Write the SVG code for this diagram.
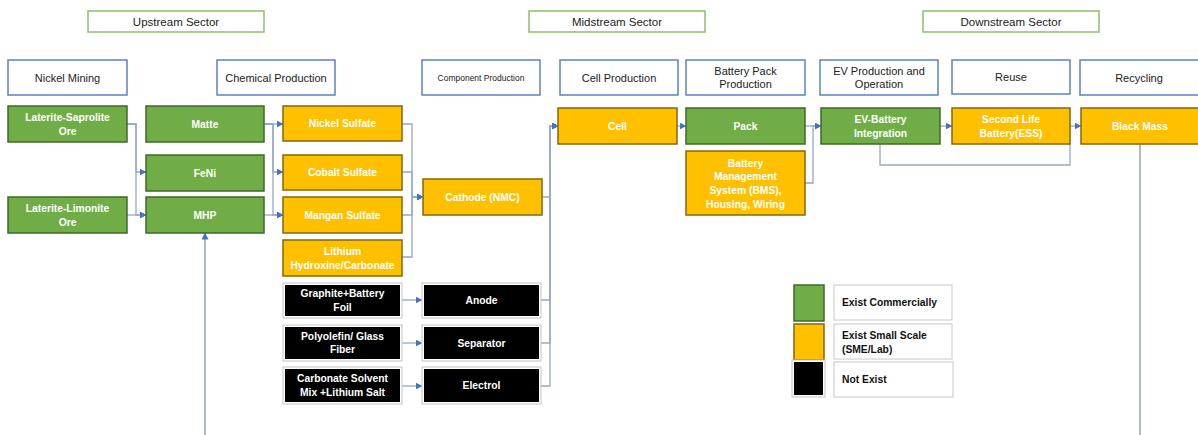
<svg xmlns="http://www.w3.org/2000/svg" width="1198" height="435" viewBox="0 0 1198 435">
<defs>
<marker id="arr" markerWidth="7" markerHeight="7" refX="6.5" refY="3.5" orient="auto" markerUnits="userSpaceOnUse"><path d="M0,0 L7,3.5 L0,7 z" fill="#4472c4"/></marker>
<style>
text{font-family:"Liberation Sans",Arial,sans-serif;}
.sec rect{fill:#fff;stroke:#8cc06a;stroke-width:1.5}
.sec text{font-size:11.5px;fill:#222;text-anchor:middle}
.cat rect{fill:#fff;stroke:#5b82c8;stroke-width:1.5}
.cat text{font-size:11px;fill:#222;text-anchor:middle}
.g rect{fill:#70ad47;stroke:#3f6a28;stroke-width:1.5}
.y rect{fill:#ffc000;stroke:#866708;stroke-width:1.5}
.b .o{fill:#fff;stroke:#c4c4c4;stroke-width:1}
.b .i{fill:#000}
.n text{font-size:10.3px;font-weight:bold;fill:#fff;text-anchor:middle}
.lg rect.l{fill:#fff;stroke:#c8c8c8;stroke-width:1}
.lg text{font-size:10.3px;font-weight:bold;fill:#111}
.c path{fill:none;stroke:#97a8c2;stroke-width:1.3}
.c .a{marker-end:url(#arr)}
</style>
</defs>
<rect width="1198" height="435" fill="#fff"/>

<g id="sectors">
<g id="upstream" class="sec"><rect x="88" y="11" width="176" height="21"/><text x="176" y="25.5">Upstream Sector</text></g>
<g id="midstream" class="sec"><rect x="529" y="11" width="176" height="21"/><text x="617" y="25.5">Midstream Sector</text></g>
<g id="downstream" class="sec"><rect x="923" y="11" width="176" height="21"/><text x="1011" y="25.5">Downstream Sector</text></g>
</g>

<g id="categories">
<g id="cat-mining" class="cat"><rect x="8" y="60" width="119" height="35"/><text x="67.5" y="81.5">Nickel Mining</text></g>
<g id="cat-chem" class="cat"><rect x="217" y="60" width="118" height="35"/><text x="276" y="81.5">Chemical Production</text></g>
<g id="cat-comp" class="cat"><rect x="422" y="60" width="118" height="35"/><text x="481" y="80.5" style="font-size:8.5px">Component Production</text></g>
<g id="cat-cell" class="cat"><rect x="560" y="60" width="118" height="35"/><text x="619" y="81.5">Cell Production</text></g>
<g id="cat-pack" class="cat"><rect x="686" y="60" width="119" height="35"/><text x="745.5" y="74.5">Battery Pack</text><text x="745.5" y="88">Production</text></g>
<g id="cat-ev" class="cat"><rect x="820" y="60" width="118" height="35"/><text x="879" y="74.5">EV Production and</text><text x="879" y="88">Operation</text></g>
<g id="cat-reuse" class="cat"><rect x="952" y="60" width="118" height="34"/><text x="1011" y="81">Reuse</text></g>
<g id="cat-recycling" class="cat"><rect x="1080" y="60" width="125" height="35"/><text x="1139" y="81.5">Recycling</text></g>
</g>

<g id="connectors" class="c">
<path class="a" d="M127,124 H136 V172 H146"/>
<path class="a" d="M127,124 H136 V215 H146"/>
<path class="a" d="M127,215 H146"/>
<path class="a" d="M264,124 H283"/>
<path class="a" d="M264,124 H273 V172 H283"/>
<path class="a" d="M264,124 H273 V215 H283"/>
<path class="a" d="M264,215 H283"/>
<path class="a" d="M402,124 H412 V197 H423"/>
<path class="a" d="M402,172 H412 V197 H423"/>
<path class="a" d="M402,215 H412 V197 H423"/>
<path class="a" d="M402,257 H412 V197 H423"/>
<path class="a" d="M542,197 H550 V126 H558"/>
<path class="a" d="M541,300 H550 V126 H558"/>
<path class="a" d="M541,343 H550 V126 H558"/>
<path class="a" d="M541,386 H550 V126 H558"/>
<path class="a" d="M402,300 H422"/>
<path class="a" d="M402,343 H422"/>
<path class="a" d="M402,386 H422"/>
<path class="a" d="M677,126 H686"/>
<path class="a" d="M805,126 H821"/>
<path class="a" d="M805,183 H813 V126 H821"/>
<path class="a" d="M940,126 H952"/>
<path class="a" d="M1070,126 H1081"/>
<path d="M880,144 V165 H1070 V144"/>
<path d="M1140,144 V435" style="stroke:#8597b3"/>
<path class="a" d="M205,435 V233" style="stroke:#8597b3"/>
</g>

<g id="n-saprolite" class="n g"><rect x="8" y="106" width="119" height="36"/><text x="67.5" y="121">Laterite-Saprolite</text><text x="67.5" y="134.5">Ore</text></g>
<g id="n-limonite" class="n g"><rect x="8" y="197" width="119" height="36"/><text x="67.5" y="212">Laterite-Limonite</text><text x="67.5" y="225.5">Ore</text></g>
<g id="n-matte" class="n g"><rect x="146" y="106" width="118" height="36"/><text x="205" y="127.5">Matte</text></g>
<g id="n-feni" class="n g"><rect x="146" y="155" width="118" height="36"/><text x="205" y="176.5">FeNi</text></g>
<g id="n-mhp" class="n g"><rect x="146" y="197" width="118" height="36"/><text x="205" y="218.5">MHP</text></g>
<g id="n-nisulfate" class="n y"><rect x="283" y="106" width="119" height="35"/><text x="342.5" y="127">Nickel Sulfate</text></g>
<g id="n-cosulfate" class="n y"><rect x="283" y="155" width="119" height="35"/><text x="342.5" y="176">Cobalt Sulfate</text></g>
<g id="n-mnsulfate" class="n y"><rect x="283" y="197" width="119" height="36"/><text x="342.5" y="218.5">Mangan Sulfate</text></g>
<g id="n-lithium" class="n y"><rect x="283" y="240" width="119" height="36"/><text x="342.5" y="255">Lithium</text><text x="342.5" y="268.5">Hydroxine/Carbonate</text></g>
<g id="n-cathode" class="n y"><rect x="423" y="179" width="119" height="36"/><text x="482.5" y="200.5">Cathode (NMC)</text></g>

<g id="n-graphite" class="n b"><rect class="o" x="283" y="283" width="119" height="35"/><rect class="i" x="285" y="285" width="115" height="31"/><text x="342.5" y="297">Graphite+Battery</text><text x="342.5" y="310.5">Foil</text></g>
<g id="n-polyolefin" class="n b"><rect class="o" x="283" y="325" width="119" height="36"/><rect class="i" x="285" y="327" width="115" height="32"/><text x="342.5" y="339.5">Polyolefin/ Glass</text><text x="342.5" y="353">Fiber</text></g>
<g id="n-carbonate" class="n b"><rect class="o" x="283" y="367" width="119" height="37"/><rect class="i" x="285" y="369" width="115" height="33"/><text x="342.5" y="382">Carbonate Solvent</text><text x="342.5" y="395.5">Mix +Lithium Salt</text></g>
<g id="n-anode" class="n b"><rect class="o" x="422" y="283" width="119" height="35"/><rect class="i" x="424" y="285" width="115" height="31"/><text x="481.5" y="304">Anode</text></g>
<g id="n-separator" class="n b"><rect class="o" x="422" y="325" width="119" height="36"/><rect class="i" x="424" y="327" width="115" height="32"/><text x="481.5" y="346.5">Separator</text></g>
<g id="n-electrol" class="n b"><rect class="o" x="422" y="367" width="119" height="37"/><rect class="i" x="424" y="369" width="115" height="33"/><text x="481.5" y="389">Electrol</text></g>

<g id="n-cell" class="n y"><rect x="558" y="108" width="119" height="36"/><text x="617.5" y="129.5">Cell</text></g>
<g id="n-pack" class="n g"><rect x="686" y="108" width="119" height="36"/><text x="745.5" y="129.5">Pack</text></g>
<g id="n-bms" class="n y"><rect x="686" y="151" width="119" height="64"/><text x="745.5" y="166.5">Battery</text><text x="745.5" y="180">Management</text><text x="745.5" y="194">System (BMS),</text><text x="745.5" y="207.5">Housing, Wiring</text></g>
<g id="n-evbattery" class="n g"><rect x="821" y="108" width="119" height="36"/><text x="880.5" y="123">EV-Battery</text><text x="880.5" y="136.5">Integration</text></g>
<g id="n-secondlife" class="n y"><rect x="952" y="108" width="118" height="36"/><text x="1011" y="123">Second Life</text><text x="1011" y="136.5">Battery(ESS)</text></g>
<g id="n-blackmass" class="n y"><rect x="1081" y="108" width="125" height="36"/><text x="1140" y="129.5">Black Mass</text></g>

<g id="legend" class="lg">
<g id="lg-commercial"><rect x="794" y="285" width="30" height="36" fill="#70ad47" stroke="#3f6a28" stroke-width="1.5"/><rect class="l" x="834" y="285" width="118" height="35"/><text x="842" y="306">Exist Commercially</text></g>
<g id="lg-small"><rect x="794" y="324" width="30" height="36" fill="#ffc000" stroke="#866708" stroke-width="1.5"/><rect class="l" x="834" y="324" width="118" height="35"/><text x="842" y="339">Exist Small Scale</text><text x="842" y="352.5">(SME/Lab)</text></g>
<g id="lg-not"><rect x="792" y="360" width="33" height="37" fill="#fff" stroke="#c4c4c4"/><rect x="794" y="362" width="29" height="33" fill="#000"/><rect class="l" x="834" y="362" width="119" height="35"/><text x="842" y="383">Not Exist</text></g>
</g>
</svg>
